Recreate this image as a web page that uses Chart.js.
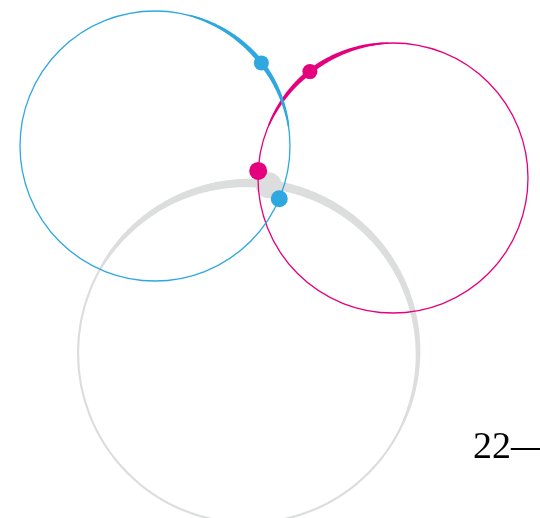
<!DOCTYPE html>
<html>
<head>
<meta charset="utf-8">
<script src="https://cdn.jsdelivr.net/npm/chart.js@4"></script>
<style>
  html, body { margin: 0; padding: 0; background: #fff; }
  #wrap { position: relative; width: 540px; height: 518px; }
</style>
</head>
<body>
<div id="wrap"><canvas id="chart"></canvas></div>
<script>
// rings, in chart units (1 unit = 1 px, y measured downwards)
const ringNames = ["blue", "magenta", "grey"];
const ringCenterX = [155, 393, 248];
const ringCenterY = [146, 178, 353];
const ringRadius = [135, 135, 170];
// angles in degrees, clockwise from 12 o'clock
const markerAngle = [52, 322, 7];
const trailStart = [15, 293, -60];
const trailEnd = [82, 358, 115];
const secondAngle = [113, 273, null];
const sideLabel = "22";

const colors = ["#2ea8df", "#e5007d", "#dcdddd"];
const ringWidth = [1.3, 1.3, 2.2];
const trailPeak = [5, 5, 9];
const markerSize = [7.5, 7.5, 13];
const secondSize = [8.5, 9, 0];

function onRing(i, deg) {
  const a = deg * Math.PI / 180;
  return { x: ringCenterX[i] + ringRadius[i] * Math.sin(a), y: ringCenterY[i] - ringRadius[i] * Math.cos(a) };
}

const ringPlugin = {
  id: "rings",
  beforeDatasetsDraw(chart) {
    const { ctx, scales: { x, y } } = chart;
    [2, 1, 0].forEach((i) => {
      const cx = x.getPixelForValue(ringCenterX[i]);
      const cy = y.getPixelForValue(ringCenterY[i]);
      const r = Math.abs(x.getPixelForValue(ringCenterX[i] + ringRadius[i]) - cx);
      ctx.save();
      ctx.strokeStyle = colors[i];
      ctx.fillStyle = colors[i];
      ctx.lineWidth = ringWidth[i];
      ctx.beginPath();
      ctx.arc(cx, cy, r, 0, Math.PI * 2);
      ctx.stroke();

      // tapered trail around the marker
      const outer = [], inner = [];
      for (let d = trailStart[i]; d <= trailEnd[i]; d += 0.5) {
        const m = markerAngle[i];
        const t = d < m ? (d - trailStart[i]) / (m - trailStart[i]) : (trailEnd[i] - d) / (trailEnd[i] - m);
        const w = ringWidth[i] + (trailPeak[i] - ringWidth[i]) * Math.pow(t, 0.7);
        const a = d * Math.PI / 180;
        outer.push([cx + (r + w / 2) * Math.sin(a), cy - (r + w / 2) * Math.cos(a)]);
        inner.push([cx + (r - w / 2) * Math.sin(a), cy - (r - w / 2) * Math.cos(a)]);
      }
      ctx.beginPath();
      outer.forEach((p, k) => (k ? ctx.lineTo(p[0], p[1]) : ctx.moveTo(p[0], p[1])));
      inner.reverse().forEach((p) => ctx.lineTo(p[0], p[1]));
      ctx.closePath();
      ctx.fill();

      // the grey marker sits under the coloured rings
      if (secondAngle[i] === null) {
        const p = onRing(i, markerAngle[i]);
        ctx.beginPath();
        ctx.arc(x.getPixelForValue(p.x), y.getPixelForValue(p.y) + 1, markerSize[i], 0, Math.PI * 2);
        ctx.fill();
      }
      ctx.restore();
    });
  },
  afterDraw(chart) {
    const { ctx } = chart;
    ctx.save();
    ctx.fillStyle = "#000";
    ctx.font = "38px 'Liberation Serif', 'DejaVu Serif', serif";
    ctx.textBaseline = "alphabetic";
    ctx.fillText(sideLabel + "\u2014", 473, 458);
    ctx.restore();
  },
};

const datasets = [];
[0, 1].forEach((i) => {
  const pts = [onRing(i, markerAngle[i]), onRing(i, secondAngle[i])];
  const sizes = [markerSize[i], secondSize[i]];
  datasets.push({
    label: ringNames[i],
    data: pts,
    backgroundColor: colors[i],
    borderWidth: 0,
    pointRadius: sizes,
    pointHoverRadius: sizes,
  });
});

new Chart(document.getElementById("chart"), {
  type: "scatter",
  data: { datasets },
  options: {
    responsive: true,
    maintainAspectRatio: false,
    animation: false,
    layout: { padding: 0, autoPadding: false },
    plugins: { legend: { display: false }, tooltip: { enabled: false } },
    scales: {
      x: { type: "linear", min: 0, max: 540, display: false },
      y: { type: "linear", min: 0, max: 518, reverse: true, display: false },
    },
  },
  plugins: [ringPlugin],
});
</script>
</body>
</html>
